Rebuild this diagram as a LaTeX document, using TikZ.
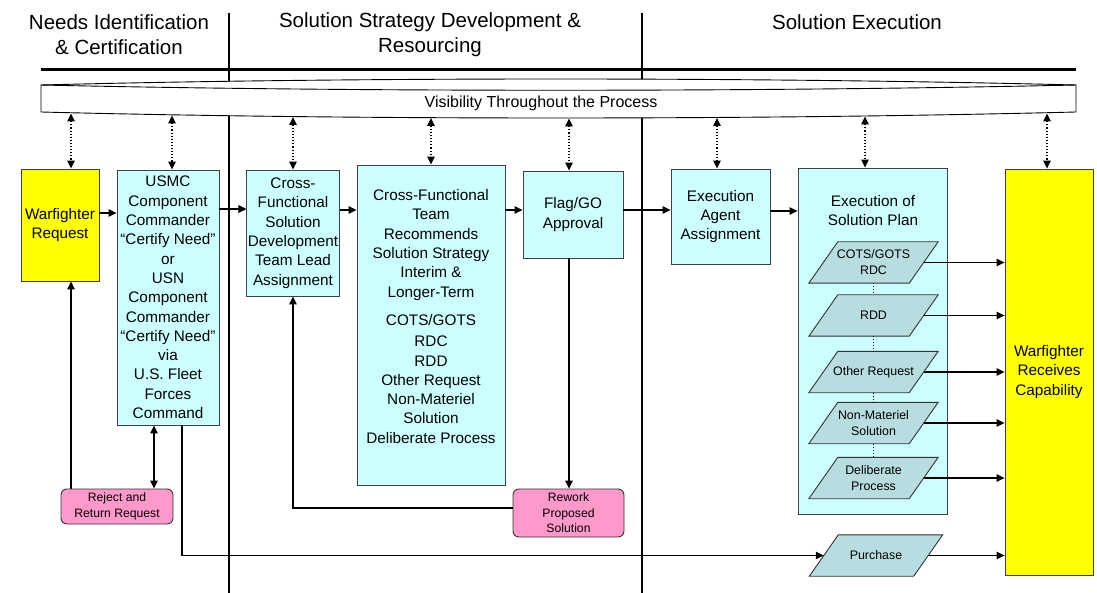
\documentclass[tikz,border=0pt]{standalone}
\usepackage{fontspec}
\setmainfont{Liberation Sans}
\usetikzlibrary{arrows.meta}
\definecolor{yel}{RGB}{255,255,0}
\definecolor{cyanl}{RGB}{204,255,255}
\definecolor{paraC}{RGB}{184,221,224}
\definecolor{pinkC}{RGB}{255,153,204}
\newcommand\hdfont{\fontsize{20.5}{25}\selectfont}
\newcommand\bdfont{\fontsize{15.3}{19.3}\selectfont}
\newcommand\pfont{\fontsize{12.4}{16}\selectfont}
\newcommand\pkfont{\fontsize{12.2}{15.5}\selectfont}
\newcommand\vfont{\fontsize{16}{17}\selectfont}
\pgfdeclarelayer{back}
\pgfsetlayers{back,main}
\begin{document}
\begin{tikzpicture}[x=1pt,y=-1pt,
  box/.style={draw=black!75, line width=0.9pt, align=center, inner sep=1pt, font=\bdfont},
  cbox/.style={box, fill=cyanl},
  ybox/.style={box, fill=yel},
  pbox/.style={draw=black!80, line width=0.9pt, fill=pinkC, rounded corners=6pt, align=center, inner sep=1pt, font=\pkfont},
  para/.style={rectangle, minimum height=41pt, minimum width=100pt, inner sep=1pt, align=center, font=\pfont},
  parashape/.style={draw=black!80, line width=0.9pt, fill=paraC, line join=miter},
  arr/.style={line width=1.1pt, -{Triangle[length=8pt,width=7.5pt]}},
  darr/.style={line width=1.1pt, {Triangle[length=8pt,width=7.5pt]}-{Triangle[length=8pt,width=7.5pt]}},
  vis/.style={darr, dotted},
  plink/.style={dotted, line width=1pt}
]
\useasboundingbox (0,0) rectangle (1097,593);

% header lines
\draw[line width=2pt] (229,13) -- (229,593);
\draw[line width=2pt] (642,13) -- (642,593);
\draw[line width=3pt] (41,69.5) -- (1076,69.5);

\node[font=\hdfont, align=center] (h1) at (119,35) {Needs Identification\\\& Certification};
\node[font=\hdfont, align=center] (h2) at (430,35) {Solution Strategy Development \&\\Resourcing};
\node[font=\hdfont] (h3) at (857,22) {Solution Execution};

% visibility band
\draw[fill=white, line width=0.9pt] (41,85) .. controls (350,77) and (760,77) .. (1076,85)
  -- (1076,112) .. controls (760,120) and (350,120) .. (41,112) -- cycle;
\draw[line width=0.9pt] (41,85) .. controls (350,92) and (760,92) .. (1076,85);
\node[font=\vfont] (vis) at (541,103) {Visibility Throughout the Process};

\coordinate (v1) at (71,113.5);
\coordinate (v2) at (172,115.5);
\coordinate (v3) at (293,117);
\coordinate (v4) at (431,118);
\coordinate (v5) at (569,118.5);
\coordinate (v6) at (717,118);
\coordinate (v7) at (865,116.5);
\coordinate (v8) at (1047,113.5);

% boxes
\node[ybox, minimum width=78pt, minimum height=112pt] (wr) at (60,225) {Warfighter\\Request};
\node[cbox, minimum width=102pt, minimum height=255pt] (usmc) at (168,297.5)
  {USMC\\Component\\Commander\\“Certify Need”\\or\\USN\\Component\\Commander\\“Certify Need”\\via\\U.S. Fleet\\Forces\\Command};
\node[cbox, minimum width=92pt, minimum height=126pt] (cfs) at (293,233)
  {Cross-\\Functional\\Solution\\Development\\Team Lead\\Assignment};
\node[cbox, minimum width=148pt, minimum height=320pt] (cft) at (431,325) {};
\node[font=\bdfont, align=center] (cfttext) at (431,316.5)
  {Cross-Functional\\Team\\Recommends\\Solution Strategy\\Interim \&\\Longer-Term\\[9pt]COTS/GOTS\\[2pt]RDC\\RDD\\Other Request\\Non-Materiel\\Solution\\Deliberate Process};
\node[cbox, minimum width=100pt, minimum height=87pt] (flag) at (573,214.5) {Flag/GO\\Approval};
\node[cbox, minimum width=99pt, minimum height=95pt] (ea) at (720.5,216.5) {Execution\\Agent\\Assignment};
\begin{pgfonlayer}{back}
\node[cbox, minimum width=149pt, minimum height=346pt] (esp) at (872.5,341) {};
\end{pgfonlayer}
\node[font=\bdfont, align=center] (esptext) at (873,210.5) {Execution of\\Solution Plan};
\node[ybox, minimum width=88pt, minimum height=406pt] (wrc) at (1049,372) {Warfighter\\Receives\\Capability};

\node[pbox, minimum width=112pt, minimum height=35pt] (reject) at (117,506.5) {Reject and\\Return Request};
\node[pbox, minimum width=111pt, minimum height=48pt] (rework) at (568.5,513) {Rework\\Proposed\\Solution};

% parallelograms (text nodes; outlines drawn on the back layer)
\node[para] (p1) at (873.5,262.5) {COTS/GOTS\\RDC};
\node[para] (p2) at (873.5,315.5) {RDD};
\node[para] (p3) at (873.5,372) {Other Request};
\node[para] (p4) at (873.5,423) {Non-Materiel\\Solution};
\node[para] (p5) at (873.5,478) {Deliberate\\Process};
\node[para, minimum width=104pt] (p6) at (876,555.5) {Purchase};
\begin{pgfonlayer}{back}
\foreach \p in {p1,p2,p3,p4,p5,p6}
  \draw[parashape] ([xshift=-14.5pt]\p.south west) -- ([xshift=-14.5pt]\p.south east)
    -- ([xshift=14.5pt]\p.north east) -- ([xshift=14.5pt]\p.north west) -- cycle;
\end{pgfonlayer}

\draw[plink] (p1.south) -- (p2.north);
\draw[plink] (p2.south) -- (p3.north);
\draw[plink] (p3.south) -- (p4.north);
\draw[plink] (p4.south) -- (p5.north);

\foreach \p in {p1,p2,p3,p4,p5,p6}
  \draw[arr] (\p.east) -- (\p.east -| wrc.west);

% visibility arrows
\draw[vis] (v1) -- (v1 |- wr.north);
\draw[vis] (v2) -- (v2 |- usmc.north);
\draw[vis] (v3) -- (v3 |- cfs.north);
\draw[vis] (v4) -- (v4 |- cft.north);
\draw[vis] (v5) -- (v5 |- flag.north);
\draw[vis] (v6) -- (v6 |- ea.north);
\draw[vis] (v7) -- (v7 |- esp.north);
\draw[vis] (v8) -- (v8 |- wrc.north);

% flow arrows
\draw[arr] (wr.east |- 0,213) -- (usmc.west |- 0,213);
\draw[arr] (usmc.east |- 0,209) -- (cfs.west |- 0,209);
\draw[arr] (cfs.east |- 0,210) -- (cft.west |- 0,210);
\draw[arr] (cft.east |- 0,210) -- (flag.west |- 0,210);
\draw[arr] (flag.east |- 0,210) -- (ea.west |- 0,210);
\draw[arr] (ea.east |- 0,211) -- (esp.west |- 0,211);

\draw[arr] (71,0 |- reject.north) -- (71,0 |- wr.south);
\draw[darr] (154,0 |- usmc.south) -- (154,0 |- reject.north);
\draw[arr] (182,0 |- usmc.south) |- (p6.west);
\draw[arr] (569,0 |- flag.south) -- (569,0 |- rework.north);
\draw[arr] (rework.west |- 0,508) -| (cfs.south);
\end{tikzpicture}
\end{document}
